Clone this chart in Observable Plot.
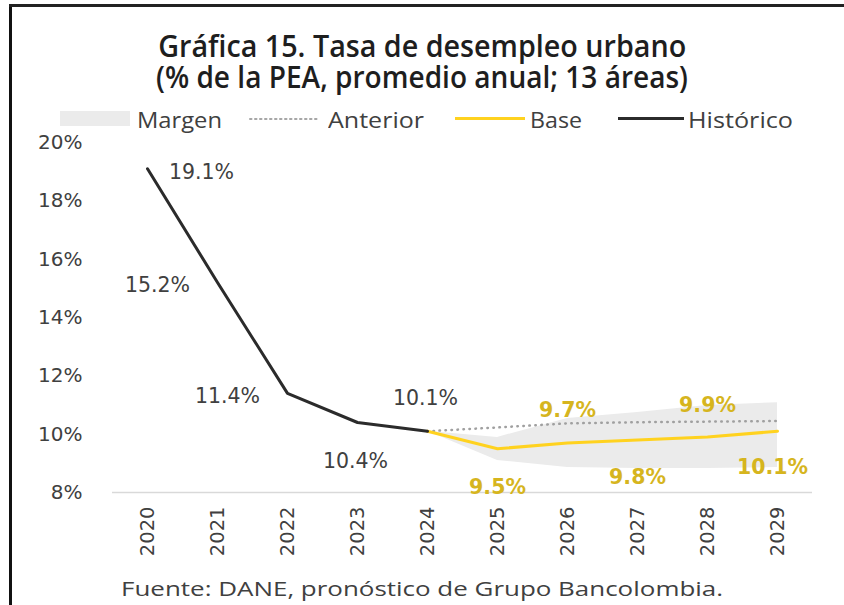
<!DOCTYPE html>
<html><head><meta charset="utf-8">
<script src="https://cdn.jsdelivr.net/npm/d3@7"></script>
<script src="https://cdn.jsdelivr.net/npm/@observablehq/plot@0.6"></script>
<style>
html,body{margin:0;padding:0;background:#fff;}
#wrap{position:relative;width:844px;height:605px;overflow:hidden;background:#fff;font-family:"Open Sans",sans-serif;color:#404040;}
.frameL{position:absolute;left:9px;top:4px;width:3px;height:601px;background:#111;}
.frameT{position:absolute;left:9px;top:4px;width:835px;height:3px;background:#222;}
.title{position:absolute;left:0;width:844px;text-align:center;font-weight:600;color:#1e1e1e;white-space:nowrap;font-size:31px;line-height:28px;height:28px;}
.title span{display:inline-block;transform-origin:center;}
.leg{position:absolute;top:105px;font-size:22px;color:#404040;white-space:nowrap;line-height:28px;}
.leg span{display:inline-block;transform-origin:left center;}
.sw{position:absolute;}
#chart{position:absolute;left:0;top:122px;}
.cap{position:absolute;left:0;width:844px;text-align:center;top:576px;font-size:20px;line-height:26px;color:#404040;white-space:nowrap;}
.cap span{display:inline-block;transform-origin:center;}
</style></head>
<body><div id="wrap">
<div class="frameL"></div><div class="frameT"></div>
<div class="title" id="t1" style="top:31px;"><span>Gráfica 15. Tasa de desempleo urbano</span></div>
<div class="title" id="t2" style="top:62px;"><span>(% de la PEA, promedio anual; 13 áreas)</span></div>
<div class="sw" style="left:60px;top:111px;width:70px;height:15px;background:#ebebeb;"></div>
<div class="leg" id="l1" style="left:137px;"><span>Margen</span></div>
<svg class="sw" style="left:248px;top:115px;" width="72" height="8"><line x1="2" y1="4" x2="70" y2="4" stroke="#a6a6a6" stroke-width="2" stroke-dasharray="1.5 3.5" stroke-linecap="round"/></svg>
<div class="leg" id="l2" style="left:328px;"><span>Anterior</span></div>
<div class="sw" style="left:455px;top:117px;width:70px;height:3px;background:#FFD21F;"></div>
<div class="leg" id="l3" style="left:530px;"><span>Base</span></div>
<div class="sw" style="left:618px;top:117px;width:66px;height:3px;background:#2b2b2b;"></div>
<div class="leg" id="l4" style="left:688px;"><span>Histórico</span></div>
<div id="chart"></div>
<div class="cap" id="cap"><span>Fuente: DANE, pronóstico de Grupo Bancolombia.</span></div>
</div>
<script>
const years = ["2020","2021","2022","2023","2024","2025","2026","2027","2028","2029"];
const histYears = ["2020","2021","2022","2023","2024"];
const histValues = [19.1, 15.2, 11.4, 10.4, 10.1];
const fcYears = ["2024","2025","2026","2027","2028","2029"];
const baseValues = [10.1, 9.5, 9.7, 9.8, 9.9, 10.1];
const anteriorValues = [10.1, 10.23, 10.37, 10.41, 10.43, 10.45];
const marginLow = [10.1, 9.1, 8.86, 8.82, 8.82, 8.86];
const marginHigh = [10.1, 9.89, 10.54, 10.74, 10.98, 11.08];
const yTicks = [8, 10, 12, 14, 16, 18, 20];

const hist = histYears.map((y, i) => ({year: y, value: histValues[i]}));
const fc = fcYears.map((y, i) => ({year: y, base: baseValues[i], ant: anteriorValues[i], lo: marginLow[i], hi: marginHigh[i]}));
const baseLbl = fc.slice(1);
const fmt = d => d.toFixed(1) + "%";
const gold = "#D6B51E";
const numFont = "DejaVu Sans";

function hl(year, dx, dy) {
  return Plot.text(hist, {filter: d => d.year === year, x: "year", y: "value", text: d => fmt(d.value), dx, dy, fill: "#404040", fontSize: 20.5, fontFamily: numFont});
}
function bl(year, dx, dy) {
  return Plot.text(baseLbl, {filter: d => d.year === year, x: "year", y: "base", text: d => fmt(d.base), dx, dy, fill: gold, fontSize: 20.5, fontWeight: "bold", fontFamily: numFont});
}

const chart = Plot.plot({
  width: 844, height: 455,
  marginLeft: 112, marginRight: 32, marginTop: 20, marginBottom: 85,
  style: {fontFamily: numFont, fontSize: "20px", color: "#404040", background: "transparent", overflow: "visible"},
  x: {type: "point", domain: years, padding: 0.5},
  y: {domain: [8, 20]},
  marks: [
    Plot.areaY(fc, {x: "year", y1: "lo", y2: "hi", fill: "#ebebeb", curve: "linear"}),
    Plot.ruleY([8], {stroke: "#d9d9d9", strokeWidth: 1.5}),
    Plot.line(fc, {x: "year", y: "ant", stroke: "#a0a0a0", strokeWidth: 2.5, strokeDasharray: "0.5 5.5", strokeLinecap: "round"}),
    Plot.line(fc, {x: "year", y: "base", stroke: "#FFD21F", strokeWidth: 3}),
    Plot.line(hist, {x: "year", y: "value", stroke: "#2b2b2b", strokeWidth: 3}),
    hl("2020", 54, 4), hl("2021", -60, 3), hl("2022", -60, 3), hl("2023", -2, 39), hl("2024", -2, -33),
    bl("2025", 0, 39), bl("2026", 0, -32), bl("2027", 0, 37), bl("2028", 0, -32), bl("2029", -5, 36),
    Plot.axisY({ticks: yTicks, tickFormat: d => d + "%", tickSize: 0, tickPadding: 30, label: null, fontSize: 20, fill: "#404040"}),
    Plot.axisX({tickRotate: -90, tickSize: 0, tickPadding: 14, label: null, fontSize: 19.5, fill: "#404040"})
  ]
});
document.getElementById("chart").appendChild(chart);

function fit(id, target) {
  const s = document.querySelector("#" + id + " span");
  const w = s.getBoundingClientRect().width;
  s.style.transform = "scaleX(" + (target / w) + ")";
}
fit("t1", 528); fit("t2", 532); fit("cap", 602);
fit("l1", 85); fit("l2", 96); fit("l3", 52); fit("l4", 105);
</script>
</body></html>
